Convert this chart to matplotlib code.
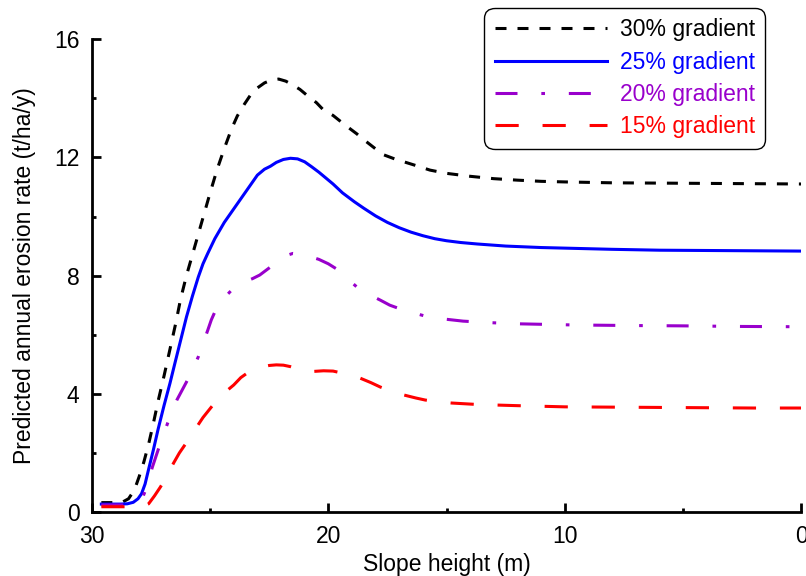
import matplotlib
matplotlib.use("Agg")
import matplotlib.pyplot as plt
from matplotlib.ticker import MultipleLocator

# Values (slope height in m, erosion rate in t/ha/y)
x_30 = [29.6, 29.0, 28.7, 28.45, 28.2, 28.0, 27.8, 27.6, 27.4, 27.2, 26.95, 26.7, 26.45, 26.25,
        26.0, 25.75, 25.5, 25.25, 25.0, 24.7, 24.4, 24.1, 23.85, 23.55, 23.3, 23.0, 22.7, 22.4,
        22.1, 21.8, 21.5, 21.2, 20.9, 20.5, 20.2, 19.8, 19.3, 18.8, 18.5, 18.1, 17.7, 17.2,
        16.8, 16.2, 15.7, 15.0, 14.0, 13.0, 12.0, 11.0, 10.0, 8.0, 6.0, 4.0, 2.0, 0.0]
y_30 = [0.32, 0.32, 0.34, 0.45, 0.75, 1.2, 1.7, 2.3, 3.0, 3.75, 4.6, 5.5, 6.4, 7.2,
        8.0, 8.7, 9.4, 10.1, 10.8, 11.6, 12.3, 12.95, 13.4, 13.8, 14.1, 14.35, 14.52, 14.62,
        14.65, 14.58, 14.45, 14.3, 14.1, 13.85, 13.6, 13.42, 13.1, 12.8, 12.6, 12.35, 12.1, 11.95,
        11.85, 11.7, 11.57, 11.46, 11.36, 11.28, 11.23, 11.19, 11.17, 11.14, 11.13, 11.12, 11.11, 11.1]

x_25 = [29.6, 28.8, 28.5, 28.25, 28.05, 27.9, 27.75, 27.6, 27.4, 27.2, 26.95, 26.7, 26.5, 26.25,
        26.0, 25.75, 25.5, 25.3, 25.1, 24.8, 24.4, 24.05, 23.7, 23.35, 23.0, 22.7, 22.45, 22.2,
        21.9, 21.6, 21.3, 21.0, 20.7, 20.4, 20.1, 19.8, 19.4, 18.9, 18.5, 18.0, 17.5, 17.0,
        16.5, 16.0, 15.5, 15.0, 14.4, 13.7, 12.5, 11.0, 10.0, 8.0, 6.0, 4.0, 2.0, 0.0]
y_25 = [0.27, 0.27, 0.28, 0.33, 0.45, 0.62, 0.95, 1.45, 2.1, 2.8, 3.6, 4.35, 5.0, 5.8,
        6.6, 7.3, 7.95, 8.4, 8.75, 9.25, 9.8, 10.2, 10.6, 11.0, 11.4, 11.6, 11.7, 11.83,
        11.93, 11.97, 11.95, 11.85, 11.68, 11.5, 11.3, 11.1, 10.8, 10.5, 10.28, 10.02, 9.8, 9.62,
        9.47, 9.35, 9.25, 9.18, 9.12, 9.07, 9.0, 8.95, 8.93, 8.89, 8.86, 8.85, 8.84, 8.83]

x_20 = [29.6, 28.7, 28.3, 28.05, 27.85, 27.65, 27.45, 27.2, 27.0, 26.8, 26.6, 26.4, 26.2, 26.0,
        25.75, 25.5, 25.3, 25.1, 24.95, 24.8, 24.6, 24.4, 24.1, 23.8, 23.5, 23.2, 22.9, 22.6,
        22.3, 22.0, 21.7, 21.5, 21.2, 20.8, 20.4, 20.0, 19.6, 19.2, 18.8, 18.3, 17.8, 17.4,
        16.95, 16.4, 15.9, 15.2, 14.3, 13.2, 12.0, 10.8, 9.6, 7.0, 5.0, 2.5, 0.0]
y_20 = [0.24, 0.24, 0.26, 0.33, 0.5, 0.9, 1.5, 2.1, 2.55, 3.0, 3.4, 3.8, 4.1, 4.4,
        4.8, 5.25, 5.7, 6.15, 6.5, 6.77, 7.05, 7.25, 7.5, 7.68, 7.8, 7.9, 8.02, 8.2,
        8.38, 8.55, 8.7, 8.75, 8.72, 8.65, 8.55, 8.4, 8.2, 7.9, 7.62, 7.37, 7.17, 7.0,
        6.87, 6.74, 6.63, 6.54, 6.46, 6.41, 6.37, 6.35, 6.33, 6.31, 6.3, 6.28, 6.27]

x_15 = [29.6, 28.6, 28.1, 27.8, 27.6, 27.35, 27.1, 26.8, 26.55, 26.3, 26.0, 25.55, 25.3, 25.0,
        24.6, 24.3, 24.0, 23.7, 23.4, 23.1, 22.8, 22.5, 22.2, 21.9, 21.6, 21.3, 21.0, 20.6,
        20.2, 19.8, 19.4, 19.0, 18.65, 18.2, 17.8, 17.3, 16.8, 16.3, 15.9, 15.3, 14.8, 13.7,
        12.0, 10.0, 8.0, 6.0, 4.0, 2.0, 0.0]
y_15 = [0.18, 0.18, 0.18, 0.2, 0.28, 0.55, 0.85, 1.25, 1.65, 2.0, 2.35, 2.9, 3.2, 3.5,
        3.9, 4.1, 4.3, 4.55, 4.72, 4.83, 4.91, 4.96, 4.98, 4.97, 4.92, 4.84, 4.78, 4.76,
        4.78, 4.77, 4.7, 4.62, 4.53, 4.38, 4.23, 4.08, 3.96, 3.86, 3.79, 3.73, 3.69, 3.64,
        3.6, 3.56, 3.55, 3.54, 3.53, 3.52, 3.52]

labels = ["30% gradient", "25% gradient", "20% gradient", "15% gradient"]
colors = ["#000000", "#0000FF", "#9900CC", "#FF0000"]

plt.rcParams.update({
    "font.family": "sans-serif",
    "font.sans-serif": ["Liberation Sans", "DejaVu Sans"],
    "font.size": 16.5,
})

fig = plt.figure(figsize=(8.06, 5.76), dpi=100)
ax = fig.add_axes([0.114, 0.111, 0.880, 0.821])

lw = 2.2
ax.plot(x_30, y_30, color=colors[0], lw=lw, dashes=(3.6, 3.6), dash_capstyle="butt", label=labels[0])
ax.plot(x_25, y_25, color=colors[1], lw=lw, label=labels[1])
ax.plot(x_20, y_20, color=colors[2], lw=lw, dashes=(7.2, 7.8, 1.2, 7.8), dash_capstyle="butt", label=labels[2])
ax.plot(x_15, y_15, color=colors[3], lw=lw, dashes=(7.6, 7.8), dash_capstyle="butt", label=labels[3])

ax.set_xlim(30, 0)
ax.set_ylim(0, 16)
ax.xaxis.set_major_locator(MultipleLocator(10))
ax.xaxis.set_minor_locator(MultipleLocator(5))
ax.yaxis.set_major_locator(MultipleLocator(4))
ax.yaxis.set_minor_locator(MultipleLocator(2))

for side in ["top", "right"]:
    ax.spines[side].set_visible(False)
for side in ["left", "bottom"]:
    ax.spines[side].set_linewidth(2)

ax.tick_params(which="major", direction="in", length=6.5, width=2, pad=9, labelsize=16.5)
ax.tick_params(which="minor", direction="in", length=3, width=2)

ax.set_xlabel("Slope height (m)", fontsize=16.5, labelpad=4)
ax.set_ylabel("Predicted annual erosion rate (t/ha/y)", fontsize=16.5, labelpad=13)

leg = ax.legend(loc="upper right", bbox_to_anchor=(765 / 806, 1 - 8 / 576),
                bbox_transform=fig.transFigure, borderaxespad=0, fontsize=16.5,
                handlelength=4.9, handletextpad=0.55, labelspacing=0.41,
                borderpad=0.45, frameon=True, fancybox=True, edgecolor="black", framealpha=1)
leg.get_frame().set_linewidth(1)
leg.get_frame().set_boxstyle("round", pad=0, rounding_size=0.45)
for text, c in zip(leg.get_texts(), colors):
    text.set_color(c)

fig.savefig("out.png", dpi=100)
